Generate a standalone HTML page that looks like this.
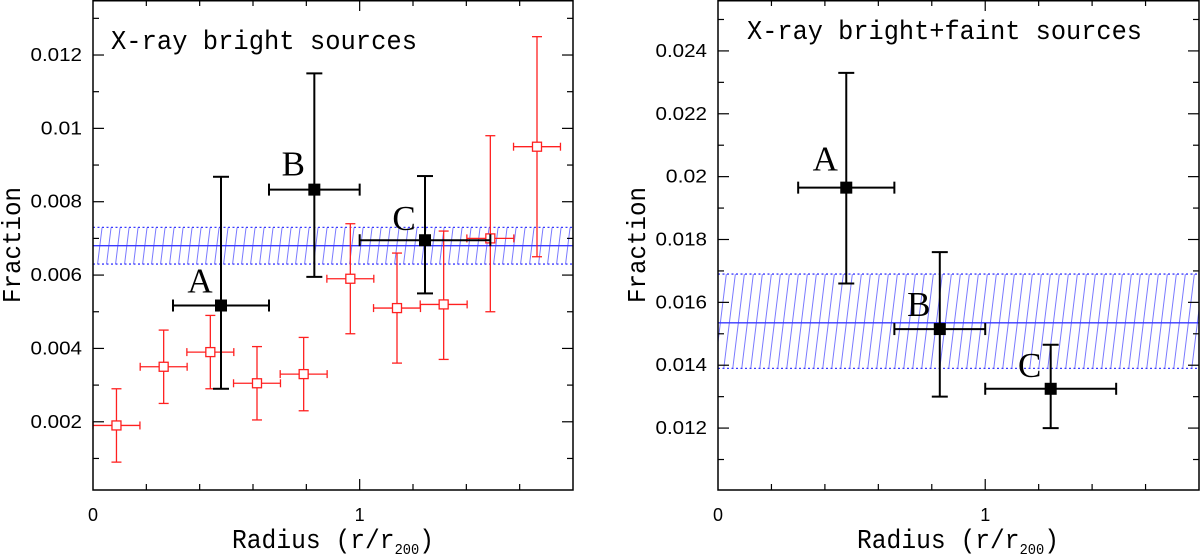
<!DOCTYPE html>
<html><head><meta charset="utf-8"><style>
html,body{margin:0;padding:0;background:#fff;}
svg{display:block;}
text{font-family:"Liberation Mono",monospace;fill:#000;}
</style></head><body>
<svg id="chart" width="1200" height="558" viewBox="0 0 1200 558" xmlns="http://www.w3.org/2000/svg">
<defs>
<pattern id="hatch" patternUnits="userSpaceOnUse" width="9" height="36" patternTransform="skewX(-7)">
<line x1="4" y1="0" x2="4" y2="36" stroke="#6a6aff" stroke-width="0.9"/>
</pattern>
</defs>
<g id="left"></g>
<g id="right"></g>
</svg>
<script>
// Left panel data
const leftBlackLabels = ["A","B","C"];
const leftBlackX = [0.48, 0.83, 1.245];
const leftBlackXLo = [0.30, 0.66, 1.0];
const leftBlackXHi = [0.66, 1.0, 1.49];
const leftBlackY = [0.00517, 0.00833, 0.00695];
const leftBlackYLo = [0.0029, 0.00595, 0.0055];
const leftBlackYHi = [0.00868, 0.0115, 0.0087];
const leftRedX = [0.088, 0.265, 0.44, 0.615, 0.79, 0.965, 1.14, 1.315, 1.49, 1.665];
const leftRedY = [0.0019, 0.0035, 0.0039, 0.00305, 0.0033, 0.0059, 0.0051, 0.0052, 0.0070, 0.0095];
const leftRedYLo = [0.0009, 0.0025, 0.0029, 0.00205, 0.0023, 0.0044, 0.0036, 0.0037, 0.0050, 0.0065];
const leftRedYHi = [0.0029, 0.0045, 0.0049, 0.00405, 0.0043, 0.0074, 0.0066, 0.0072, 0.0098, 0.0125];
const leftRedXErr = [0.088, 0.088, 0.088, 0.088, 0.088, 0.088, 0.088, 0.088, 0.088, 0.088];
const leftBand = [0.0063, 0.0068, 0.0073];
const leftYTicks = [0.002, 0.004, 0.006, 0.008, 0.01, 0.012];
const leftYTickLabels = ["0.002","0.004","0.006","0.008","0.01","0.012"];
// Right panel data
const rightBlackLabels = ["A","B","C"];
const rightBlackX = [0.48, 0.83, 1.245];
const rightBlackXLo = [0.30, 0.66, 1.0];
const rightBlackXHi = [0.66, 1.0, 1.49];
const rightBlackY = [0.01965, 0.01515, 0.01325];
const rightBlackYLo = [0.0166, 0.0130, 0.0120];
const rightBlackYHi = [0.0233, 0.0176, 0.01465];
const rightBand = [0.0139, 0.01535, 0.0169];
const rightYTicks = [0.012, 0.014, 0.016, 0.018, 0.02, 0.022, 0.024];
const rightYTickLabels = ["0.012","0.014","0.016","0.018","0.02","0.022","0.024"];
const xTicks = [0, 1];
const xTickLabels = ["0","1"];

const NS = "http://www.w3.org/2000/svg";
function mk(parent, tag, attrs, txt){
  const e = document.createElementNS(NS, tag);
  for (const k in attrs) e.setAttribute(k, attrs[k]);
  if (txt !== undefined) e.textContent = txt;
  parent.appendChild(e);
  return e;
}

function panel(g, cfg){
  const L=cfg.L, R=cfg.R, T=0, B=490;
  const sx = v => L + (v - 0) / 1.8 * (R - L);
  const sy = v => B - (v - cfg.ymin) / (cfg.ymax - cfg.ymin) * (B - T);
  const band = mk(g,'rect',{x:L,y:sy(cfg.band[2]),width:R-L,height:sy(cfg.band[0])-sy(cfg.band[2]),fill:'url(#hatch)'});
  
  
  [cfg.band[0], cfg.band[2]].forEach(v=>{
    const l = mk(g,'line',{x1:L,x2:R,y1:sy(v),y2:sy(v),stroke:'#3a3aff','stroke-width':1.3,'stroke-dasharray':'2,2.5'});
    
    
  });
  const ml = mk(g,'line',{x1:L,x2:R,y1:sy(cfg.band[1]),y2:sy(cfg.band[1]),stroke:'#3a3aff','stroke-width':1.4});
  
  
  if (cfg.redX){
    for (let i=0;i<cfg.redX.length;i++){
      const pg = mk(g,'g',{stroke:'#ff2020','stroke-width':1.3,fill:'none'});
      
      
      const x=sx(cfg.redX[i]), y=sy(cfg.redY[i]);
      const x0=Math.max(L,sx(cfg.redX[i]-cfg.redXErr[i])), x1=sx(cfg.redX[i]+cfg.redXErr[i]);
      const y0=sy(cfg.redYLo[i]), y1=sy(cfg.redYHi[i]);
      mk(pg,'line',{x1:x0,x2:x1,y1:y,y2:y});
      mk(pg,'line',{x1:x,x2:x,y1:y0,y2:y1});
      mk(pg,'line',{x1:x0,x2:x0,y1:y-4,y2:y+4});
      mk(pg,'line',{x1:x1,x2:x1,y1:y-4,y2:y+4});
      mk(pg,'line',{x1:x-5,x2:x+5,y1:y0,y2:y0});
      mk(pg,'line',{x1:x-5,x2:x+5,y1:y1,y2:y1});
      mk(pg,'rect',{x:x-4.5,y:y-4.5,width:9,height:9,fill:'#fff'});
    }
  }
  for (let i=0;i<cfg.bX.length;i++){
    const pg = mk(g,'g',{stroke:'#000','stroke-width':2,fill:'none'});
    
    
    const x=sx(cfg.bX[i]), y=sy(cfg.bY[i]);
    const x0=sx(cfg.bXLo[i]), x1=sx(cfg.bXHi[i]), y0=sy(cfg.bYLo[i]), y1=sy(cfg.bYHi[i]);
    mk(pg,'line',{x1:x0,x2:x1,y1:y,y2:y});
    mk(pg,'line',{x1:x,x2:x,y1:y0,y2:y1});
    mk(pg,'line',{x1:x0,x2:x0,y1:y-6,y2:y+6});
    mk(pg,'line',{x1:x1,x2:x1,y1:y-6,y2:y+6});
    mk(pg,'line',{x1:x-8,x2:x+8,y1:y0,y2:y0});
    mk(pg,'line',{x1:x-8,x2:x+8,y1:y1,y2:y1});
    mk(pg,'rect',{x:x-6,y:y-6,width:12,height:12,fill:'#000',stroke:'none'});
    const t = mk(g,'text',{x:x-21,y:y-cfg.lblOff[i],'text-anchor':'middle','font-size':35,style:'font-family:"Liberation Serif",serif'},cfg.bLabels[i]);
    
    
  }
  const fr = mk(g,'rect',{x:L,y:T+0.75,width:R-L,height:B-T-0.75,fill:'none',stroke:'#000','stroke-width':1.5});
  
  
  const tk = mk(g,'g',{stroke:'#000','stroke-width':1.2});
  
  
  for (let v=0.2; v<1.8-1e-9; v+=0.2){
    const major = Math.abs(v-1)<1e-6, len = major?11:6;
    mk(tk,'line',{x1:sx(v),x2:sx(v),y1:B,y2:B-len});
    mk(tk,'line',{x1:sx(v),x2:sx(v),y1:T,y2:T+len});
  }
  for (let k=Math.ceil(cfg.ymin*1000); k<=Math.floor(cfg.ymax*1000); k++){
    const v=k/1000, major=(k%2===0), len=major?11:6;
    mk(tk,'line',{x1:L,x2:L+len,y1:sy(v),y2:sy(v)});
    mk(tk,'line',{x1:R,x2:R-len,y1:sy(v),y2:sy(v)});
  }
  cfg.yTicks.forEach((v,i)=>{
    const t = mk(g,'text',{x:L-11,y:sy(v)+6,'text-anchor':'end','font-size':18,textLength:cfg.yTickLabels[i].length*10.3,lengthAdjust:'spacingAndGlyphs',style:'font-family:"Liberation Sans",sans-serif'},cfg.yTickLabels[i]);
    
    
  });
  xTicks.forEach((v,i)=>{
    const t = mk(g,'text',{x:sx(v),y:521,'text-anchor':'middle','font-size':18,style:'font-family:"Liberation Sans",sans-serif'},xTickLabels[i]);
    
    
  });
  const ti = mk(g,'text',{x:cfg.titleX,y:cfg.titleY,'font-size':27,textLength:cfg.titleW,lengthAdjust:'spacingAndGlyphs'},cfg.title);
  
  
  const xl = mk(g,'text',{x:cfg.xlX,y:548,'font-size':27,textLength:202,lengthAdjust:'spacingAndGlyphs'});
  
  
  xl.innerHTML = 'Radius (r/r<tspan font-size="15" dy="6">200</tspan><tspan dy="-6">)</tspan>';
  const yl = mk(g,'text',{transform:`translate(${cfg.ylX},245) rotate(-90)`,'text-anchor':'middle','font-size':26,textLength:116,lengthAdjust:'spacingAndGlyphs'},'Fraction');
  
  
}

panel(document.getElementById('left'), {
  L:93, R:573, ymin:0.00014, ymax:0.0135,
  band:leftBand, redX:leftRedX, redY:leftRedY, redYLo:leftRedYLo, redYHi:leftRedYHi, redXErr:leftRedXErr,
  bLabels:leftBlackLabels, bX:leftBlackX, bXLo:leftBlackXLo, bXHi:leftBlackXHi, bY:leftBlackY, bYLo:leftBlackYLo, bYHi:leftBlackYHi,
  lblOff:[13,14,10],
  yTicks:leftYTicks, yTickLabels:leftYTickLabels,
  title:'X-ray bright sources', titleX:111, titleY:49, titleW:306, xlX:232, ylX:20
});
panel(document.getElementById('right'), {
  L:718, R:1199, ymin:0.01003, ymax:0.02562,
  band:rightBand, redX:null,
  bLabels:rightBlackLabels, bX:rightBlackX, bXLo:rightBlackXLo, bXHi:rightBlackXHi, bY:rightBlackY, bYLo:rightBlackYLo, bYHi:rightBlackYHi,
  lblOff:[17,13,12],
  yTicks:rightYTicks, yTickLabels:rightYTickLabels,
  title:'X-ray bright+faint sources', titleX:747, titleY:39, titleW:395, xlX:857, ylX:645
});
</script>
</body></html>
